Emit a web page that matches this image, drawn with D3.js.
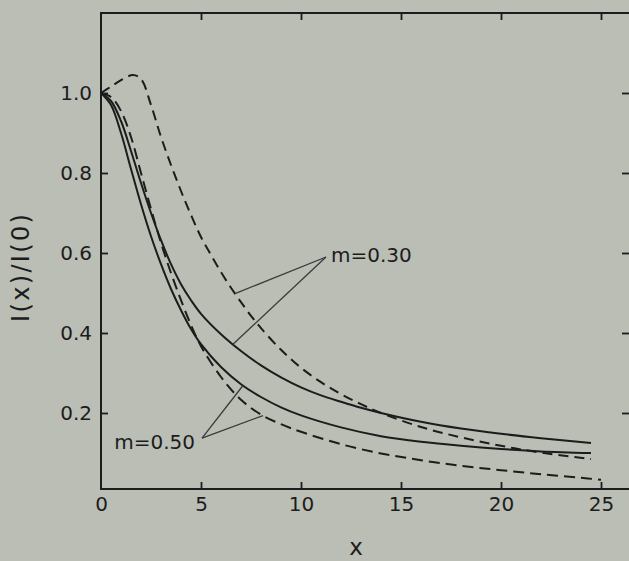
<!DOCTYPE html>
<html>
<head>
<meta charset="utf-8">
<script src="https://cdn.jsdelivr.net/npm/d3@7"></script>
<style>
  html, body { margin: 0; padding: 0; background: #babeb5; }
  svg { display: block; }
</style>
</head>
<body>
<svg id="chart" width="629" height="561"></svg>
<script>
// ---- data ----
const xTicks = [0, 5, 10, 15, 20, 25];
const yTicks = [0.2, 0.4, 0.6, 0.8, 1.0];

// m = 0.30, solid
const m30SolidX = [0, 0.5, 1, 1.5, 2, 2.5, 3, 3.5, 4, 4.5, 5, 6, 7, 8, 9, 10, 11, 12, 13, 14, 16, 18, 20, 22, 24.5];
const m30SolidY = [1.0, 0.98, 0.93, 0.855, 0.775, 0.70, 0.632, 0.572, 0.522, 0.482, 0.448, 0.397, 0.355, 0.319, 0.289, 0.264, 0.244, 0.228, 0.213, 0.20, 0.178, 0.161, 0.148, 0.137, 0.125];

// m = 0.50, solid
const m50SolidX = [0, 0.5, 1, 1.5, 2, 2.5, 3, 3.5, 4, 4.5, 5, 6, 7, 8, 9, 10, 12, 14, 16, 18, 20, 22, 24.5];
const m50SolidY = [1.0, 0.97, 0.90, 0.81, 0.722, 0.642, 0.572, 0.51, 0.457, 0.41, 0.372, 0.315, 0.272, 0.24, 0.214, 0.194, 0.164, 0.142, 0.128, 0.118, 0.11, 0.104, 0.10];

// m = 0.30, dashed
const m30DashX = [0, 0.5, 1, 1.6, 2, 2.5, 3, 3.5, 4, 4.5, 5, 5.5, 6, 6.5, 7, 7.5, 8, 9, 10, 11, 12, 13, 14, 16, 18, 20, 22, 24.5];
const m30DashY = [1.0, 1.016, 1.032, 1.045, 1.035, 0.97, 0.89, 0.82, 0.755, 0.695, 0.64, 0.595, 0.552, 0.513, 0.477, 0.443, 0.412, 0.358, 0.313, 0.277, 0.247, 0.222, 0.20, 0.165, 0.139, 0.118, 0.101, 0.085];

// m = 0.50, dashed
const m50DashX = [0, 0.5, 1, 1.5, 2, 2.5, 3, 3.5, 4, 4.5, 5, 6, 7, 8, 9, 10, 12, 14, 16, 18, 20, 22, 24, 25];
const m50DashY = [1.0, 0.99, 0.955, 0.89, 0.80, 0.71, 0.625, 0.55, 0.482, 0.42, 0.367, 0.29, 0.233, 0.196, 0.172, 0.153, 0.122, 0.099, 0.082, 0.068, 0.057, 0.047, 0.038, 0.033];

// annotation labels
const labelM30 = "m=0.30";
const labelM50 = "m=0.50";

// ---- drawing ----
const svg = d3.select("#chart");
const W = 629, H = 561;
const ink = "#1c1c1c";
const font = "DejaVu Sans, Verdana, sans-serif";

svg.append("rect").attr("width", W).attr("height", H).attr("fill", "#babeb5");

const x = d3.scaleLinear().domain([0, 26.5]).range([101, 631]);
const y = d3.scaleLinear().domain([0, 1.2]).range([493, 13]);
const yBase = 0.01; // level of the lower frame line

const plotLeft = x(0), plotRight = x(26.5), plotTop = y(1.2), plotBottom = y(yBase);

// frame
svg.append("path")
  .attr("d", `M${plotRight},${plotTop}H${plotLeft}V${plotBottom}H${plotRight}`)
  .attr("stroke", ink).attr("stroke-width", 2).attr("fill", "none");

// axes
const gB = svg.append("g").attr("transform", `translate(0,${plotBottom})`)
  .call(d3.axisBottom(x).tickValues(xTicks).tickSizeInner(-7).tickSizeOuter(0).tickPadding(8));
const gT = svg.append("g").attr("transform", `translate(0,${plotTop})`)
  .call(d3.axisTop(x).tickValues(xTicks.slice(1)).tickSizeInner(-7).tickSizeOuter(0).tickFormat(""));
const gL = svg.append("g").attr("transform", `translate(${plotLeft},0)`)
  .call(d3.axisLeft(y).tickValues(yTicks).tickSizeInner(-7).tickSizeOuter(0).tickPadding(9).tickFormat(d3.format(".1f")));
const gR = svg.append("g").attr("transform", `translate(${plotRight},0)`)
  .call(d3.axisRight(y).tickValues(yTicks).tickSizeInner(-9).tickSizeOuter(0).tickFormat(""));

[gB, gT, gL, gR].forEach(g => {
  g.select(".domain").remove();
  g.selectAll(".tick line").attr("stroke", ink).attr("stroke-width", 1.8);
  g.selectAll(".tick text").attr("fill", ink).attr("font-family", font).attr("font-size", 20);
});
gB.select(".tick:first-of-type line").remove();

// axis titles
svg.append("text")
  .attr("x", 356).attr("y", 555)
  .attr("text-anchor", "middle")
  .attr("font-family", font).attr("font-size", 23).attr("fill", ink)
  .text("x");

svg.append("text")
  .attr("transform", "translate(29,268) rotate(-90)")
  .attr("text-anchor", "middle")
  .attr("font-family", font).attr("font-size", 24).attr("fill", ink)
  .attr("textLength", 108).attr("lengthAdjust", "spacing")
  .text("I(x)/I(0)");

// curves
const line = d3.line().x(d => x(d[0])).y(d => y(d[1])).curve(d3.curveCatmullRom.alpha(0.5));
const series = [
  { xs: m30SolidX, ys: m30SolidY, dash: null },
  { xs: m50SolidX, ys: m50SolidY, dash: null },
  { xs: m30DashX, ys: m30DashY, dash: "10,6" },
  { xs: m50DashX, ys: m50DashY, dash: "11,6" }
];
series.forEach(s => {
  svg.append("path")
    .datum(d3.zip(s.xs, s.ys))
    .attr("d", line)
    .attr("fill", "none")
    .attr("stroke", ink)
    .attr("stroke-width", 2)
    .attr("stroke-dasharray", s.dash);
});

// value on a curve (linear interpolation of the read points)
function valueAt(xs, ys, xv) {
  const i = Math.max(1, Math.min(xs.length - 1, d3.bisectLeft(xs, xv)));
  const t = (xv - xs[i - 1]) / (xs[i] - xs[i - 1]);
  return ys[i - 1] + t * (ys[i] - ys[i - 1]);
}

// annotations
const annots = [
  { text: labelM30, tx: 11.5, ty: 0.578, anchor: "start",
    ox: 11.25, oy: 0.59,
    targets: [[m30DashX, m30DashY, 6.7], [m30SolidX, m30SolidY, 6.6]] },
  { text: labelM50, tx: 4.7, ty: 0.11, anchor: "end",
    ox: 5.05, oy: 0.137,
    targets: [[m50SolidX, m50SolidY, 7.1], [m50DashX, m50DashY, 8.1]] }
];
annots.forEach(a => {
  a.targets.forEach(([xs, ys, xv]) => {
    svg.append("line")
      .attr("x1", x(a.ox)).attr("y1", y(a.oy))
      .attr("x2", x(xv)).attr("y2", y(valueAt(xs, ys, xv)))
      .attr("stroke", "#3a3a3a").attr("stroke-width", 1.3);
  });
  svg.append("text")
    .attr("x", x(a.tx)).attr("y", y(a.ty))
    .attr("text-anchor", a.anchor)
    .attr("font-family", font).attr("font-size", 20).attr("fill", ink)
    .text(a.text);
});
</script>
</body>
</html>
